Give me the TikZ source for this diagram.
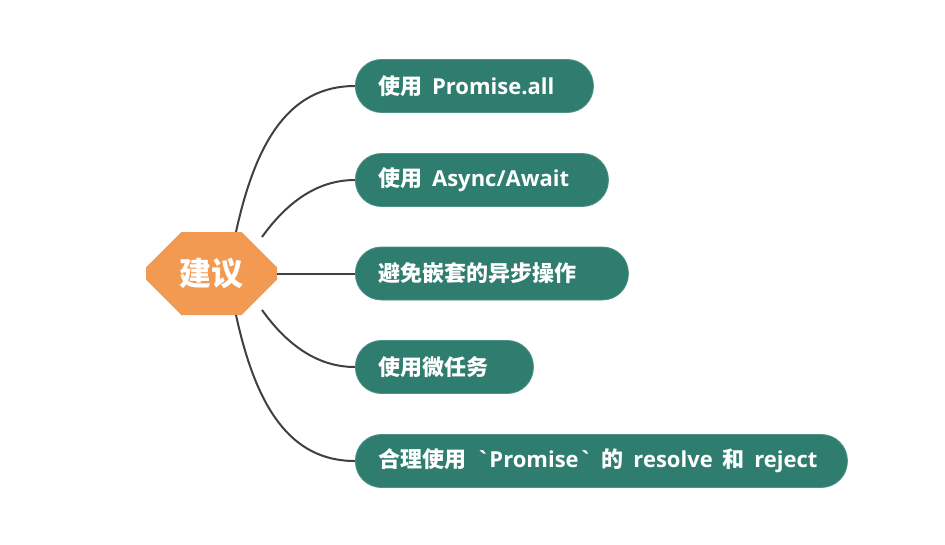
\documentclass[tikz,border=0pt]{standalone}
\usepackage{fontspec}
\setmainfont{Noto Sans CJK SC}
\newfontfamily\latf[Ligatures=NoCommon]{Open Sans}
\newcommand{\lt}[1]{{\latf #1}}
\newcommand{\gap}{\hspace{4pt}}
\newcommand{\lbox}[2]{\makebox[#1][l]{#2}}
\usetikzlibrary{shapes.misc}
\definecolor{teal1}{HTML}{2E7D6F}
\definecolor{tealedge}{HTML}{4E9186}
\definecolor{orange1}{HTML}{F29A52}
\definecolor{linec}{HTML}{404040}
\tikzset{
  leaf/.style={draw=tealedge, line width=0.8pt, fill=teal1, text=white, font=\bfseries\fontsize{22}{26}\selectfont,
    anchor=west, minimum height=53pt, rounded corners=26pt, inner xsep=23pt, inner ysep=0pt},
  root/.style={chamfered rectangle, chamfered rectangle xsep=20pt, chamfered rectangle ysep=20pt,
    fill=orange1, text=white, font=\bfseries\fontsize{32}{36}\selectfont, minimum width=131pt, minimum height=83pt, inner sep=0pt},
  conn/.style={draw=linec, line width=2pt}
}
\begin{document}
\begin{tikzpicture}[x=1pt,y=-1pt]
\useasboundingbox (0,0) rectangle (945,544);
\node[root] (c) at (211.5,273.5) {建议};
\coordinate (s1) at (236,232);
\coordinate (s2) at (262,237);
\coordinate (s4) at (262,310);
\coordinate (s5) at (236,315);
\draw[conn] (s1) .. controls +(20,-92) and +(-65,0) .. (355,86) coordinate (e1);
\draw[conn] (s2) .. controls +(23,-32) and +(-40,0) .. (355,180) coordinate (e2);
\draw[conn] (c.east) -- (355,273.5) coordinate (e3);
\draw[conn] (s4) .. controls +(23,32) and +(-40,0) .. (355,367) coordinate (e4);
\draw[conn] (s5) .. controls +(20,92) and +(-65,0) .. (355,461) coordinate (e5);
\node[leaf] (n1) at (e1) {\lbox{192pt}{使用\gap\lt{ Promise.all}}};
\node[leaf] (n2) at (e2) {\lbox{207pt}{使用\gap\lt{ Async/Await}}};
\node[leaf] (n3) at (e3) {\lbox{227pt}{避免嵌套的异步操作}};
\node[leaf] (n4) at (e4) {\lbox{132pt}{使用微任务}};
\node[leaf] (n5) at (e5) {\lbox{446pt}{合理使用\gap\lt{ \symbol{96}Promise\symbol{96} }\gap{}的\gap\lt{ resolve }\gap{}和\gap\lt{ reject}}};
\end{tikzpicture}
\end{document}
